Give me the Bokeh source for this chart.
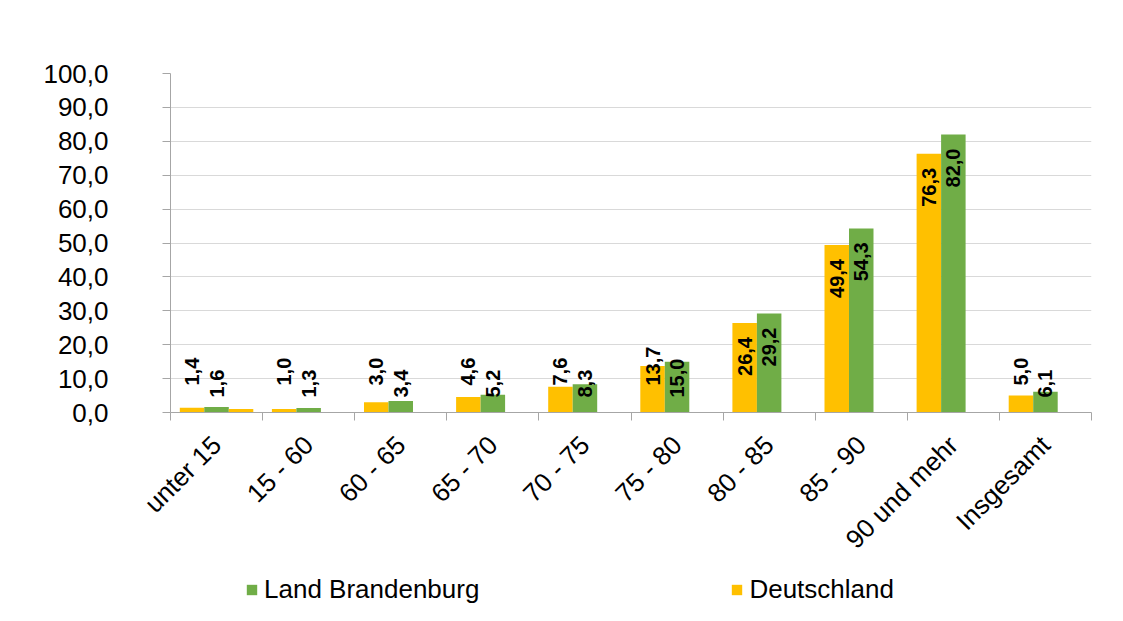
import math
from bokeh.plotting import figure
from bokeh.layouts import column
from bokeh.models import Range1d, FixedTicker, ColumnDataSource, Legend, LegendItem
from bokeh.embed import file_html
from bokeh.resources import INLINE
from bokeh.core.properties import value

# ---- data -------------------------------------------------------------
categories = ["unter 15", "15 - 60", "60 - 65", "65 - 70", "70 - 75",
              "75 - 80", "80 - 85", "85 - 90", "90 und mehr", "Insgesamt"]
deutschland = [1.4, 1.0, 3.0, 4.6, 7.6, 13.7, 26.4, 49.4, 76.3, 5.0]
brandenburg = [1.6, 1.3, 3.4, 5.2, 8.3, 15.0, 29.2, 54.3, 82.0, 6.1]
series_names = ["Land Brandenburg", "Deutschland"]
# stray third (unlabelled) bar that appears only in the first group
extra_cat = ["unter 15"]
extra_val = [1.0]
y_ticks = list(range(0, 101, 10))

# ---- styling ----------------------------------------------------------
YELLOW = "#FFC000"
GREEN = "#70AD47"
GRID = "#d9d9d9"
AXIS = "#a6a6a6"
FONT = "Liberation Sans"
AX_FS = "26px"
LBL_FS = 20

W = 1107
H1, H2 = 574, 31
LEFT, RIGHT, TOP = 170, 16, 73
BOTTOM = H1 - 412
frame_h = H1 - TOP - BOTTOM
ppu = frame_h / 100.0

BW = 0.266
OFF = {"de": -0.266, "bb": 0.0, "ex": 0.266}

p = figure(width=W, height=H1, x_range=Range1d(0, len(categories)),
           y_range=Range1d(0, 100), output_backend="svg", toolbar_location=None,
           min_border_left=LEFT, min_border_right=RIGHT,
           min_border_top=TOP, min_border_bottom=BOTTOM)
p.outline_line_color = None
p.background_fill_color = "white"
p.border_fill_color = "white"

idx = {c: i for i, c in enumerate(categories)}
xs_de = [idx[c] + 0.5 + OFF["de"] for c in categories]
xs_bb = [idx[c] + 0.5 + OFF["bb"] for c in categories]
xs_ex = [idx[c] + 0.5 + OFF["ex"] for c in extra_cat]

p.vbar(x=xs_de, top=deutschland, bottom=0, width=BW, fill_color=YELLOW, line_color=None)
p.vbar(x=xs_bb, top=brandenburg, bottom=0, width=BW, fill_color=GREEN, line_color=None)
p.vbar(x=xs_ex, top=extra_val, bottom=0, width=BW, fill_color=YELLOW, line_color=None)

# ---- data labels (rotated) -------------------------------------------
def fmt(v):
    return f"{v:.1f}".replace(".", ",")

def text_len(s):
    return sum(0.278 if ch == "," else 0.556 for ch in s) * LBL_FS

def add_labels(xs, vals, k):
    ins = dict(x=[], y=[], t=[])
    out = dict(x=[], y=[], t=[])
    for x, v in zip(xs, vals):
        s = fmt(v)
        if v * ppu - 14 - text_len(s) >= k:
            ins["x"].append(x); ins["y"].append(v); ins["t"].append(s)
        else:
            out["x"].append(x); out["y"].append(0); out["t"].append(s)
    common = dict(angle=math.pi / 2, text_baseline="middle",
                  text_font=value(FONT), text_font_style="bold",
                  text_font_size=f"{LBL_FS}px", text_color="black")
    p.text(x="x", y="y", text="t", source=ColumnDataSource(ins),
           text_align="right", y_offset=14, **common)
    p.text(x="x", y="y", text="t", source=ColumnDataSource(out),
           text_align="left", y_offset=-k, **common)

add_labels(xs_de, deutschland, 27)
add_labels(xs_bb, brandenburg, 15)

# ---- axes -------------------------------------------------------------
yax = p.yaxis[0]
yax.ticker = FixedTicker(ticks=y_ticks)
yax.major_label_overrides = {t: fmt(t) for t in y_ticks}
yax.axis_line_color = AXIS
yax.major_tick_line_color = AXIS
yax.major_tick_in = 0
yax.major_tick_out = 8
yax.minor_tick_line_color = None
yax.major_label_standoff = 54
yax.major_label_text_font = FONT
yax.major_label_text_font_size = AX_FS
yax.major_label_text_color = "black"

xax = p.xaxis[0]
centers = [i + 0.5 for i in range(len(categories))]
xax.ticker = FixedTicker(ticks=centers, minor_ticks=list(range(len(categories) + 1)))
xax.major_label_overrides = {c: cat for c, cat in zip(centers, categories)}
xax.axis_line_color = AXIS
xax.major_tick_line_color = None
xax.minor_tick_line_color = AXIS
xax.minor_tick_in = 0
xax.minor_tick_out = 8
xax.major_label_orientation = math.pi / 4
xax.major_label_standoff = 20
xax.major_label_text_font = FONT
xax.major_label_text_font_size = AX_FS
xax.major_label_text_color = "black"

p.xgrid.grid_line_color = None
p.ygrid.ticker = FixedTicker(ticks=y_ticks)
p.ygrid.grid_line_color = GRID
p.ygrid.grid_line_width = 1

# ---- legend (separate strip below the chart) --------------------------
lf = figure(width=W, height=H2, x_range=Range1d(0, 1), y_range=Range1d(0, 1),
            output_backend="svg", toolbar_location=None,
            min_border_left=0, min_border_right=0, min_border_top=0, min_border_bottom=0)
lf.axis.visible = False
lf.grid.visible = False
lf.outline_line_color = None
# legend proxies: drawn outside the visible range, only their swatches show
lr_bb = lf.vbar(x=[-5], top=[-5], bottom=[-6], width=0.1, fill_color=GREEN, line_color=None)
lr_de = lf.vbar(x=[-5], top=[-5], bottom=[-6], width=0.1, fill_color=YELLOW, line_color=None)
legend = Legend(items=[LegendItem(label=series_names[0], renderers=[lr_bb]),
                       LegendItem(label=series_names[1], renderers=[lr_de])],
                orientation="horizontal", location=(75, 0),
                spacing=251, glyph_width=13, glyph_height=13, label_standoff=6,
                label_text_font=FONT, label_text_font_size=AX_FS,
                label_text_color="black", border_line_color=None,
                background_fill_alpha=0, padding=0, margin=0)
lf.add_layout(legend, "center")

layout = column(p, lf, spacing=0)
open("out.html", "w").write(file_html(layout, INLINE))
